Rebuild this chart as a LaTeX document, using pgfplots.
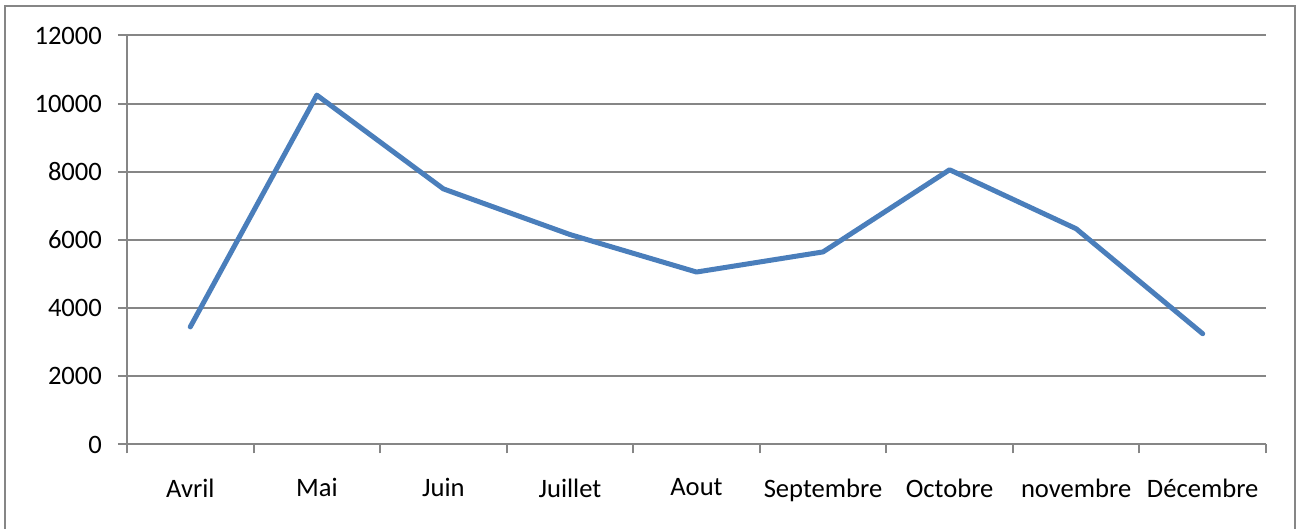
\documentclass[border=0pt]{standalone}
\usepackage{pgfplots}
\pgfplotsset{compat=1.18}
\usepackage{fontspec}
\setmainfont{Carlito}
\definecolor{lineblue}{HTML}{4A7EBB}
\definecolor{gridgray}{HTML}{868686}
\begin{document}
\begin{tikzpicture}
\path[use as bounding box] (0,0) rectangle (649pt,264.5pt);
\draw[gridgray, line width=1.1pt] (2.5pt,-5pt) rectangle (647.5pt,261.5pt);
\begin{axis}[
  at={(63.5pt,42.25pt)}, anchor=south west,
  scale only axis, width=569.5pt, height=204.5pt,
  xmin=-0.5, xmax=8.5, ymin=0, ymax=12000,
  axis x line*=bottom, axis y line*=left,
  axis line style={gridgray, line width=1pt},
  xtick={0,...,8},
  xticklabels={Avril,Mai,Juin,Juillet,Aout,Septembre,Octobre,novembre,Décembre},
  major x tick style={draw=none},
  minor xtick={-0.5,0.5,...,8.5},
  minor x tick style={gridgray, line width=1pt},
  ytick={0,2000,...,12000},
  y tick style={gridgray, line width=1pt},
  tick align=outside,
  major tick length=4.5pt, minor tick length=4.5pt,
  ymajorgrids, grid style={gridgray, line width=1pt},
  /pgf/number format/assume math mode=true,
  scaled y ticks=false,
  yticklabel style={/pgf/number format/1000 sep={}, xshift=-4.5pt},
  xticklabel style={yshift=-9pt},
  tick label style={font=\fontsize{13.3pt}{15pt}\selectfont, text=black},
  clip=false,
]
\addplot[lineblue, line width=2.5pt, line join=round, line cap=round] coordinates {
  (0,3450) (1,10250) (2,7500) (3,6160) (4,5060) (5,5650) (6,8060) (7,6330) (8,3250)
};
\end{axis}
\end{tikzpicture}
\end{document}
